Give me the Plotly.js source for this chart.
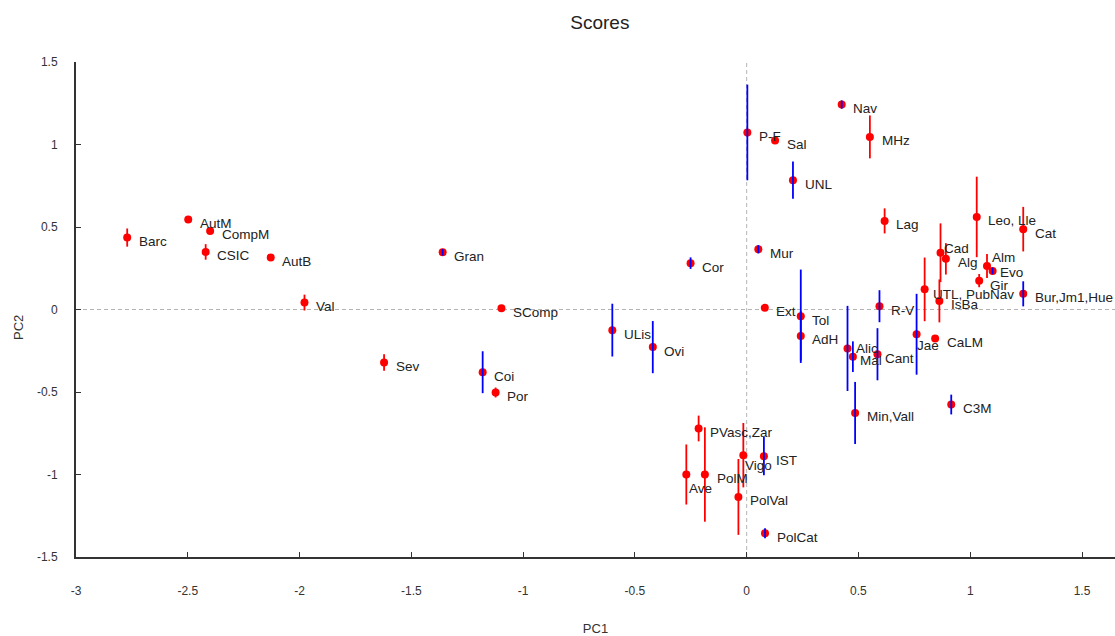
<!DOCTYPE html>
<html><head><meta charset="utf-8">
<script src="https://cdn.plot.ly/plotly-3.0.1.min.js"></script>
<style>html,body{margin:0;padding:0;background:#fff}#chart{width:1115px;height:636px}</style>
</head><body><div id="chart"></div>
<script>
// ---- data ----
const names = ["Barc","AutM","CompM","CSIC","AutB","Val","Sev","Gran","Coi","Por","SComp","ULis","Ovi","Cor",
  "P-F","Sal","Nav","MHz","UNL","Lag","Mur","Leo, Lle","Cat","Cad","Alg","Alm","Evo","Gir","Bur,Jm1,Hue",
  "UTL, PubNav","IsBa","R-V","Ext","Tol","AdH","Alic","Mal","Cant","Jae","CaLM","Min,Vall","C3M",
  "PVasc,Zar","Vigo","IST","Ave","PolM","PolVal","PolCat"];
const pc1 = [-2.771,-2.498,-2.400,-2.420,-2.129,-1.978,-1.622,-1.360,-1.181,-1.123,-1.097,-0.601,-0.420,-0.251,
  0.003,0.127,0.425,0.551,0.207,0.617,0.052,1.029,1.237,0.867,0.891,1.075,1.100,1.040,1.237,
  0.796,0.862,0.594,0.081,0.242,0.242,0.451,0.475,0.585,0.760,0.843,0.485,0.915,
  -0.215,-0.015,0.077,-0.270,-0.187,-0.037,0.082];
const pc2 = [0.436,0.545,0.476,0.349,0.315,0.042,-0.321,0.347,-0.380,-0.503,0.008,-0.125,-0.228,0.281,
  1.073,1.024,1.242,1.046,0.784,0.537,0.365,0.561,0.487,0.344,0.307,0.264,0.234,0.175,0.095,
  0.122,0.052,0.020,0.010,-0.041,-0.160,-0.236,-0.286,-0.271,-0.150,-0.176,-0.627,-0.576,
  -0.721,-0.883,-0.889,-1.000,-1.000,-1.136,-1.356];
const pc2Err = [0.055,0,0,0.047,0,0.048,0.050,0.020,0.127,0.030,0,0.160,0.158,0.035,
  0.290,0,0.025,0.130,0.113,0.076,0.025,0.244,0.135,0.178,0.095,0.073,0.020,0.040,0.076,
  0.193,0.130,0.097,0,0.283,0.150,0.258,0.093,0.158,0.245,0,0.188,0.060,
  0.078,0.195,0.116,0.182,0.286,0.230,0.030];
const errGroup = ["r","r","r","r","r","r","r","b","b","r","r","b","b","b",
  "b","r","b","r","b","r","b","r","r","r","r","r","b","r","b",
  "r","r","b","r","b","b","b","b","b","b","r","b","b",
  "r","r","b","r","r","r","b"];
const xTicks = [-3,-2.5,-2,-1.5,-1,-0.5,0,0.5,1,1.5];
const yTicks = [-1.5,-1,-0.5,0,0.5,1,1.5];

// ---- label placement (pixels right / down from the point) ----
const defaultNudge = [11.7, 4];
const labelNudge = {"Ave":[3,14],"Vigo":[1.5,10],"Jae":[0,11],"Mal":[7,3.5],"Alic":[8,0],"Cant":[7.7,4],
  "UTL, PubNav":[8,5],"Cad":[3.6,-4.7],"Alm":[4.7,-8.4],"Evo":[7.7,2],"Gir":[11,5]};

const FONT = "Liberation Sans, Arial, sans-serif";

function errTrace(g, color){
  const idx = errGroup.map((v,i)=>v===g?i:-1).filter(i=>i>=0);
  return {
    type:"scatter", mode:"markers", hoverinfo:"skip", showlegend:false,
    x: idx.map(i=>pc1[i]), y: idx.map(i=>pc2[i]),
    marker:{size:1, color:"rgba(0,0,0,0)"},
    error_y:{type:"data", array: idx.map(i=>pc2Err[i]), visible:true, color:color, thickness:1.8, width:0}
  };
}

const traces = [
  {type:"scatter", mode:"markers", x:pc1, y:pc2, text:names, showlegend:false,
   marker:{color:"#ff0000", size:8, line:{width:0}}},
  errTrace("r","#ff0000"),
  errTrace("b","#0000ff")
];

const annotations = names.map((n,i)=>{
  const d = labelNudge[n] || defaultNudge;
  return {x:pc1[i], y:pc2[i], xref:"x", yref:"y", text:n, showarrow:false,
    xanchor:"left", yanchor:"middle", xshift:d[0]-2, yshift:-d[1],
    font:{family:FONT, size:13.5, color:"#222"}};
});
// y-axis title, placed as in the reference (slightly below the plot's middle)
annotations.push({xref:"paper", yref:"paper", x:-0.0558, y:0.4626, text:"PC2", textangle:-90,
  showarrow:false, xanchor:"center", yanchor:"middle", font:{family:FONT, size:13, color:"#333"}});

const dashStyle = {color:"#b4b4b4", width:1, dash:"4px,3px"};
const layout = {
  width:1115, height:636,
  margin:{l:76, r:0, t:62, b:79},
  paper_bgcolor:"#fff", plot_bgcolor:"#fff",
  font:{family:FONT, color:"#333"},
  title:{text:"Scores", x:0.538, xanchor:"center", y:0.965, yanchor:"middle",
    font:{family:FONT, size:19, color:"#222"}},
  xaxis:{range:[-3,1.6475], tickvals:xTicks, ticktext:xTicks.map(String),
    showgrid:false, zeroline:false, showline:true, linecolor:"#333", linewidth:2,
    ticks:"inside", ticklen:5, tickcolor:"#333", tickwidth:1,
    tickfont:{family:FONT, size:12, color:"#333"}, ticklabelstandoff:22,
    title:{text:"PC1", standoff:26, font:{family:FONT, size:13, color:"#333"}}},
  yaxis:{range:[-1.5,1.5], tickvals:yTicks, ticktext:yTicks.map(String),
    showgrid:false, zeroline:false, showline:true, linecolor:"#333", linewidth:2,
    ticks:"inside", ticklen:5, tickcolor:"#333", tickwidth:1,
    tickfont:{family:FONT, size:12, color:"#333"}, ticklabelstandoff:14},
  shapes:[
    {type:"line", xref:"x", yref:"paper", x0:0, x1:0, y0:0, y1:1, line:dashStyle, layer:"below"},
    {type:"line", xref:"paper", yref:"y", x0:0, x1:1, y0:0, y1:0, line:dashStyle, layer:"below"}
  ],
  annotations: annotations,
  hovermode:"closest"
};

Plotly.newPlot("chart", traces, layout, {displayModeBar:false, staticPlot:true});
</script>
</body></html>
